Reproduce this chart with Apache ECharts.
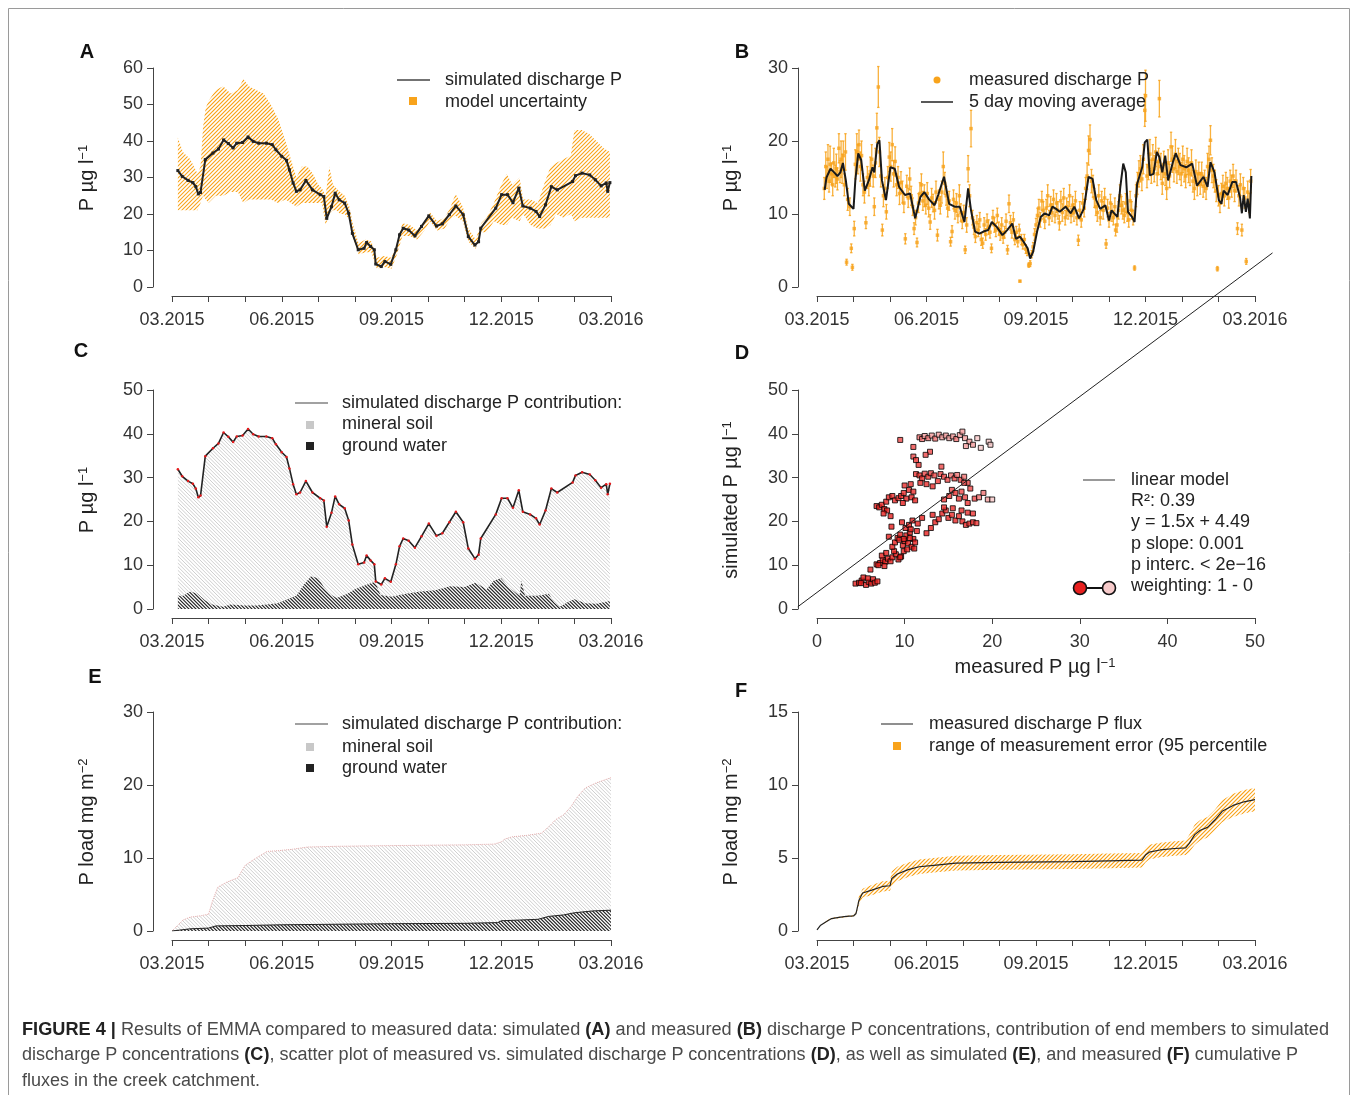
<!DOCTYPE html>
<html>
<head>
<meta charset="utf-8">
<script src="https://cdn.jsdelivr.net/npm/echarts@6/dist/echarts.min.js"></script>
<style>
html,body{margin:0;padding:0;background:#fff;}
#chart{position:absolute;left:0;top:0;width:1358px;height:1095px;}
.ln{position:absolute;left:22px;white-space:nowrap;font-family:'Liberation Sans',Arial,Helvetica,sans-serif;font-size:18px;line-height:20px;color:#4a4a4a;transform-origin:0 0;}
.ln b{color:#222;}
</style>
</head>
<body>
<div id="chart"></div>
<div class="ln" data-w="1307" style="top:1019px"><b>FIGURE 4 |</b> Results of EMMA compared to measured data: simulated <b>(A)</b> and measured <b>(B)</b> discharge P concentrations, contribution of end members to simulated</div>
<div class="ln" data-w="1276" style="top:1044px">discharge P concentrations <b>(C)</b>, scatter plot of measured vs. simulated discharge P concentrations <b>(D)</b>, as well as simulated <b>(E)</b>, and measured <b>(F)</b> cumulative P</div>
<div class="ln" data-w="238" style="top:1070px">fluxes in the creek catchment.</div>
<script>
// ---------------- DATA ----------------
const tickLabels = ['03.2015','06.2015','09.2015','12.2015','03.2016'];

// Panel A / C : simulated discharge P (months since 03.2015, µg/l)
const aM = [0.16,0.28,0.44,0.57,0.65,0.72,0.78,0.91,1.12,1.27,1.41,1.54,1.67,1.77,1.93,2.08,2.22,2.37,2.58,2.74,2.84,3.00,3.13,3.21,3.31,3.40,3.50,3.66,3.84,4.05,4.15,4.23,4.36,4.46,4.57,4.72,4.83,4.93,5.09,5.25,5.32,5.43,5.53,5.57,5.72,5.82,5.98,6.12,6.22,6.32,6.47,6.64,6.82,7.02,7.23,7.39,7.58,7.76,7.96,8.10,8.28,8.38,8.44,8.85,9.01,9.17,9.32,9.48,9.59,9.79,9.95,10.05,10.21,10.37,10.53,10.95,11.03,11.21,11.42,11.57,11.73,11.87,11.91,11.97];
const aV = [31.9,30.3,29.2,28.6,27.5,25.5,25.9,34.9,36.7,37.8,40.3,39.3,38.1,39.4,39.6,41.1,39.9,39.4,39.4,39.0,37.6,35.8,34.7,32.1,28.5,26.2,26.6,29.2,26.6,25.3,24.8,18.8,22.0,25.7,23.9,23.0,20.2,14.7,10.2,10.6,12.2,11.1,10.2,6.3,5.6,7.0,6.2,10.2,14.3,16.1,15.6,14.0,16.6,19.5,16.7,17.3,19.8,22.2,19.8,13.8,11.5,12.4,16.1,21.6,25.3,25.3,23.1,27.1,22.2,21.6,20.7,19.3,22.5,27.5,26.6,28.9,30.5,31.2,30.7,29.4,27.7,28.5,26.2,28.6];

// Panel A : model uncertainty band
const bandAM  = [0.16,0.3,0.5,0.7,0.78,0.85,0.92,1.0,1.2,1.4,1.6,1.8,1.95,2.1,2.3,2.5,2.7,2.9,3.1,3.25,3.4,3.55,3.7,3.85,4.0,4.1,4.2,4.3,4.4,4.5,4.6,4.72,4.85,4.95,5.1,5.3,5.45,5.6,5.8,6.0,6.15,6.3,6.5,6.7,6.9,7.05,7.25,7.45,7.6,7.75,7.95,8.1,8.3,8.45,8.6,8.8,9.0,9.15,9.3,9.5,9.6,9.8,10.0,10.2,10.35,10.5,10.7,10.9,11.0,11.2,11.4,11.6,11.8,11.97];
const bandAHi = [41,37,35,31,33,44,49,51,54,55,53,54,57,55,54,53,50,46,40,35,30,33,33,31,28,27,25,33,28,27,26,25,22,17,12,13,12.5,8,8.5,8,12,17.5,17,15.5,18,20.5,18,19,21.5,25.5,22,16,13,17.5,19,23,28,31,28,30,24,24,23,29,33,34,35,36,43,43,42,40,38,37];
const bandALo = [21,21,21,21,23,25,24,23,25,25,26,26,23,24,24,24,24,23,24,23,22,23,23,23,23,23,17,20,21,21,20,20,18.5,13.5,9,9.5,9.5,5,5.5,5,9,14,14,13,15.5,18,15.5,16,18.5,19.5,18,12.5,10.5,15,15,18,17,17,19,18,20,17,16,16,17,20,19,20,18,19,19,19,19,19];

// Panel B : 5 day moving average
const bMaM = [0.21,0.26,0.37,0.47,0.56,0.64,0.71,0.79,0.87,1.0,1.05,1.13,1.21,1.31,1.42,1.52,1.57,1.65,1.71,1.78,1.89,2.01,2.13,2.25,2.41,2.55,2.69,2.83,2.94,3.07,3.22,3.32,3.48,3.62,3.77,3.91,4.04,4.14,4.22,4.33,4.45,4.56,4.69,4.79,4.93,5.08,5.21,5.35,5.45,5.56,5.66,5.77,5.84,5.92,6.03,6.13,6.24,6.36,6.45,6.55,6.65,6.81,6.95,7.05,7.18,7.31,7.44,7.55,7.65,7.76,7.90,8.0,8.07,8.23,8.31,8.39,8.46,8.52,8.63,8.70,8.77,8.91,8.98,9.05,9.12,9.22,9.31,9.38,9.46,9.54,9.62,9.75,9.83,9.96,10.12,10.28,10.41,10.59,10.70,10.78,10.89,11.01,11.08,11.14,11.25,11.38,11.48,11.59,11.64,11.69,11.75,11.80,11.86,11.90];
const bMaV = [13.3,15.0,16.2,15.7,15.2,15.7,17.0,14.6,11.4,10.7,14.6,18.3,17.4,13.2,14.6,16.4,15.7,19.6,20.1,14.6,11.9,16.4,16.2,13.7,12.6,12.8,9.4,12.3,13.0,12.0,11.2,12.6,15.1,11.4,11.0,11.0,8.9,13.5,10.5,7.6,7.3,7.6,7.8,8.9,8.2,7.1,7.8,8.7,6.6,6.9,6.2,5.3,3.9,4.8,7.6,9.6,10.1,9.8,11.0,10.7,10.3,11.0,10.1,11.0,9.4,10.7,15.1,14.8,11.9,10.7,11.2,9.1,10.5,9.6,13.7,16.9,15.7,10.3,9.6,8.9,14.1,16.4,19.8,20.2,15.3,15.5,18.5,17.8,15.7,18.0,14.6,17.1,18.3,16.7,16.4,16.9,13.9,15.1,13.7,17.1,15.7,11.9,11.4,13.2,12.6,14.4,14.4,12.3,10.1,12.6,10.3,12.1,9.4,15.2];

// Panel B : measured discharge P  [month, value, error half-range]
const bMeas = [[0.20,13.5,1.5],[0.24,16.5,2],[0.27,15,1.5],[0.30,17.5,2],[0.33,14.5,1.5],[0.36,16.8,2.5],[0.40,15.5,1.5],[0.43,14,1.5],[0.46,17,2],[0.50,15.2,1.5],[0.53,16.2,2],[0.56,14.8,1.5],[0.60,19,2],[0.63,15.8,1.5],[0.66,17.5,2.5],[0.69,16.2,2],[0.72,18,2],[0.75,14,1.5],[0.78,18.5,2.5],[0.81,3.4,0.4],[0.84,12,1.5],[0.90,11,1.2],[0.94,5.3,0.6],[0.97,2.7,0.4],[1.02,8.0,1.0],[1.05,16.8,2],[1.09,18.5,2.5],[1.12,17.5,2],[1.15,19.5,2],[1.19,16.5,2],[1.22,18,2],[1.26,14,1.5],[1.30,13,1.5],[1.34,8.8,0.8],[1.38,15,1.5],[1.42,14,1.5],[1.46,15.8,2],[1.50,17.5,2],[1.54,15.2,1.5],[1.57,11,1.2],[1.60,17,2],[1.64,21.8,2],[1.68,27.4,2.8],[1.71,18.5,2],[1.75,15.2,1.5],[1.79,7.8,0.8],[1.82,12.5,1.5],[1.86,13.5,1.5],[1.90,10.3,1.0],[1.94,15,1.5],[1.98,17.8,2],[2.02,16.5,2],[2.06,19.5,2.2],[2.10,15.5,1.8],[2.14,17.2,2],[2.18,14,1.5],[2.22,15,1.5],[2.26,12.8,1.5],[2.30,14.3,1.5],[2.34,13,1.5],[2.38,11.5,1.3],[2.42,6.6,0.7],[2.46,13.8,1.5],[2.50,12.2,1.3],[2.54,14.8,1.5],[2.58,12.5,1.3],[2.62,11,1.2],[2.66,8.0,0.8],[2.70,9.5,1.0],[2.74,6.1,0.6],[2.78,11.5,1.3],[2.82,12.8,1.5],[2.86,14,1.5],[2.90,11.8,1.3],[2.94,12.5,1.5],[2.98,11.2,1.2],[3.02,12.8,1.5],[3.06,10.8,1.2],[3.10,8.9,1.0],[3.14,12.2,1.3],[3.18,11.5,1.2],[3.22,10.5,1.2],[3.26,13,1.5],[3.30,7.1,0.8],[3.34,12,1.3],[3.38,11.2,1.2],[3.42,13,1.5],[3.46,16.5,2],[3.50,14.2,1.5],[3.54,12.5,1.3],[3.58,10.8,1.2],[3.62,11.8,1.3],[3.66,6.2,0.6],[3.70,7.6,0.8],[3.74,12,1.3],[3.78,10.5,1.2],[3.82,11.5,1.3],[3.86,9.8,1.0],[3.90,12.5,1.5],[3.94,10.2,1.2],[3.98,9.0,1.0],[4.02,10.2,1.0],[4.06,5.1,0.5],[4.10,8.5,1.0],[4.14,16.2,1.8],[4.18,12.5,1.5],[4.22,21.7,2.5],[4.26,9.5,1.0],[4.30,8.2,1.0],[4.34,6.9,0.8],[4.38,8.8,1.0],[4.42,7.8,0.9],[4.46,9.2,1.0],[4.50,6.5,0.8],[4.54,6.0,0.7],[4.58,8.5,1.0],[4.62,7.2,0.8],[4.66,9.0,1.0],[4.70,8.2,1.0],[4.74,7.5,0.8],[4.78,5.3,0.6],[4.82,9.5,1.0],[4.86,8.5,1.0],[4.90,7.8,0.9],[4.94,9.8,1.0],[4.98,8.0,0.9],[5.02,7.2,0.8],[5.06,8.5,1.0],[5.10,6.8,0.8],[5.14,7.5,0.8],[5.18,9.0,1.0],[5.22,5.1,0.6],[5.26,11.4,1.2],[5.30,8.8,1.0],[5.34,7.5,0.8],[5.38,9.2,1.0],[5.42,6.5,0.7],[5.46,7.5,0.8],[5.50,6.2,0.7],[5.54,7.8,0.8],[5.56,0.8,0.1],[5.60,6.5,0.7],[5.64,5.8,0.6],[5.68,6.5,0.7],[5.72,5.2,0.6],[5.76,4.8,0.5],[5.80,3.0,0.3],[5.84,3.2,0.4],[5.88,4.5,0.5],[5.92,5.5,0.6],[5.96,7.2,0.8],[6.00,8.5,0.9],[6.04,9.8,1.0],[6.08,10.8,1.2],[6.12,9.2,1.0],[6.16,11.8,1.3],[6.20,10.5,1.2],[6.24,9.0,1.0],[6.28,10.8,1.2],[6.32,12.5,1.5],[6.36,9.5,1.0],[6.40,11.2,1.2],[6.44,10.2,1.2],[6.48,12,1.3],[6.52,9.8,1.0],[6.56,11.5,1.3],[6.60,10.5,1.2],[6.64,8.8,1.0],[6.68,11.8,1.3],[6.72,10.2,1.2],[6.76,12.2,1.3],[6.80,9.5,1.0],[6.84,11,1.2],[6.88,10.5,1.2],[6.92,12.5,1.5],[6.96,9.8,1.0],[7.00,11.2,1.2],[7.04,10.2,1.2],[7.08,11.8,1.3],[7.12,9.5,1.0],[7.16,6.4,0.7],[7.20,10.5,1.2],[7.24,9.2,1.0],[7.28,11.5,1.3],[7.32,10.8,1.2],[7.36,13.5,1.5],[7.40,15.2,1.8],[7.44,18.7,2.0],[7.48,20.2,2.0],[7.52,14.5,1.6],[7.56,13.8,1.5],[7.60,12.2,1.3],[7.64,11,1.2],[7.68,10.2,1.2],[7.72,12.5,1.5],[7.76,9.5,1.0],[7.80,11.8,1.3],[7.84,10.5,1.2],[7.88,12.2,1.3],[7.92,5.9,0.6],[7.96,10.8,1.2],[8.00,9.2,1.0],[8.04,11.5,1.2],[8.08,10.2,1.2],[8.12,9.5,1.0],[8.16,11,1.2],[8.18,7.8,0.8],[8.22,8.5,1.0],[8.26,10.5,1.2],[8.30,12.5,1.5],[8.34,11.2,1.2],[8.38,10.5,1.2],[8.42,9.8,1.0],[8.46,11.5,1.3],[8.50,10.2,1.2],[8.54,9.2,1.0],[8.58,11.8,1.3],[8.62,10.5,1.2],[8.66,9.5,1.0],[8.70,2.6,0.3],[8.74,12.5,1.5],[8.78,14.2,1.5],[8.82,15.5,1.8],[8.86,16.2,1.8],[8.90,14.8,1.6],[8.94,17.5,2.0],[8.98,24.2,2.2],[9.00,26.2,3.5],[9.04,15.2,1.6],[9.08,16.5,1.8],[9.12,18.2,2.0],[9.16,15.8,1.6],[9.20,17.5,2.0],[9.24,16.2,1.8],[9.28,18.5,2.0],[9.32,15.5,1.6],[9.36,17.2,1.8],[9.38,25.8,2.5],[9.42,16.5,1.8],[9.46,14.2,1.5],[9.50,16.8,1.8],[9.54,15.5,1.6],[9.58,13.5,1.5],[9.62,17,1.8],[9.66,15.2,1.6],[9.70,19.2,2.0],[9.74,17.5,1.8],[9.78,16.2,1.8],[9.82,18.2,2.0],[9.86,15.8,1.6],[9.90,17.2,1.8],[9.94,16.5,1.8],[9.98,15.5,1.6],[10.02,17.5,1.8],[10.06,16.2,1.8],[10.10,15.2,1.6],[10.14,17.2,1.8],[10.18,16,1.7],[10.22,15.5,1.6],[10.26,17,1.8],[10.30,14.5,1.5],[10.34,13.5,1.5],[10.38,15.8,1.6],[10.42,14,1.5],[10.46,15.5,1.6],[10.50,14.2,1.5],[10.54,15.5,1.6],[10.58,13.8,1.5],[10.62,14.5,1.5],[10.66,13.5,1.5],[10.70,16.5,1.8],[10.74,17.5,1.8],[10.78,20.1,2.0],[10.82,16,1.7],[10.86,15.2,1.6],[10.90,14.5,1.5],[10.94,13.2,1.5],[10.97,2.5,0.3],[11.00,12.5,1.4],[11.04,11.5,1.3],[11.08,12.8,1.4],[11.12,13.8,1.5],[11.16,12.5,1.4],[11.20,14.2,1.5],[11.24,13.5,1.5],[11.28,12.2,1.4],[11.32,14.5,1.5],[11.36,13.8,1.5],[11.40,15.2,1.6],[11.44,13.2,1.5],[11.48,14.5,1.5],[11.52,8.0,0.8],[11.56,12.5,1.4],[11.60,14,1.5],[11.64,7.8,0.8],[11.68,13.5,1.5],[11.72,12.2,1.4],[11.76,3.5,0.4],[11.80,13,1.5],[11.84,11.5,1.3],[11.88,14.5,1.6]];

// Panel C : ground water contribution
const cGM = [0.16,0.3,0.5,0.7,0.9,1.1,1.4,1.6,2.0,2.3,2.6,2.9,3.1,3.4,3.6,3.8,4.0,4.15,4.3,4.5,4.8,5.0,5.3,5.55,5.7,6.0,6.4,6.8,7.2,7.6,8.0,8.3,8.6,8.8,9.0,9.2,9.5,9.55,9.65,10.0,10.3,10.45,10.6,10.8,11.0,11.3,11.6,11.97];
const cGV = [3,3,4,3.5,2,1,0.5,1,0.8,0.8,1.0,1.3,2,3,5.5,7.5,7.0,5,3.5,2.5,3.5,4.5,5.5,6.2,3.2,2.8,3.5,4.0,4.3,5.2,5.0,6.0,4.5,6.5,7.0,5.0,3.0,6.5,3,3,3.5,1.5,0.5,1.5,2.2,1.3,1.2,1.8];

// Panel D : measured vs simulated [measured, simulated, weighting]
const dPts = [[4.4,5.8,1],[4.8,6.0,1],[5.1,6.5,1],[5.3,7.2,0.9],[5.6,5.5,1],[5.9,6.2,1],[6.2,5.8,1],[6.4,6.8,0.9],[6.6,6.0,1],[6.9,6.3,1],[5.8,7.0,0.8],[5.0,5.9,1],[6.1,9.0,0.6],
[6.8,10.2,1],[7.2,10.5,1],[7.5,11.2,0.9],[7.8,10.8,1],[8.1,11.5,0.9],[7.4,12.2,0.9],[7.9,12.8,0.8],[8.4,10.9,1],[8.6,11.8,0.9],[9.0,12.5,0.9],[9.3,11.3,1],[9.6,12.0,1],[9.9,13.2,0.9],[7.0,10.0,1],[7.7,9.8,1],[8.8,13.2,0.8],[9.5,11.8,1],
[8.6,14.2,0.9],[8.9,15.2,0.8],[9.2,16.2,0.9],[9.5,17.0,0.8],[9.8,14.5,1],[10.0,15.5,1],[10.2,16.8,0.9],[10.4,15.0,1],[10.6,17.5,0.8],[10.8,14.2,1],[11.0,16.0,0.9],[11.2,15.2,0.9],[11.4,17.8,0.8],[10.1,18.5,0.8],[10.5,19.2,0.7],[9.7,19.8,0.7],[10.9,20.2,0.7],[11.1,13.8,1],[9.4,15.8,1],[10.3,13.6,1],[8.2,16.5,0.8],[8.5,18.8,0.7],[10.7,18.2,0.8],[11.5,19.5,0.7],[9.9,16.0,1],[10.6,16.2,1],
[6.8,23.5,0.7],[7.1,23.2,0.7],[7.4,23.8,0.6],[7.7,22.8,0.7],[7.9,24.5,0.6],[8.2,25.5,0.6],[8.6,25.8,0.5],[8.0,22.5,0.7],[8.9,24.8,0.6],[9.3,25.3,0.5],[7.6,21.8,0.7],[8.4,21.2,0.8],
[9.6,25.8,0.6],[9.9,26.5,0.5],[10.2,25.2,0.6],[10.5,27.2,0.5],[10.8,25.5,0.6],[11.0,26.8,0.5],[10.0,28.2,0.5],[10.7,28.5,0.4],[11.2,24.8,0.7],[9.8,24.2,0.7],
[11.3,30.8,0.4],[11.7,30.5,0.4],[12.0,29.8,0.5],[12.3,30.9,0.3],[12.7,30.2,0.4],[13.0,31.0,0.3],[13.4,30.5,0.3],[13.8,29.2,0.4],[14.1,30.8,0.3],[14.5,30.2,0.3],[14.9,29.5,0.3],[15.3,30.5,0.2],[15.7,29.8,0.3],[16.0,30.6,0.2],[16.4,29.5,0.3],[16.8,30.2,0.2],[17.2,28.8,0.3],[12.5,28.5,0.5],[13.2,28.0,0.5],[11.8,28.8,0.5],
[11.7,39.2,0.2],[12.0,38.8,0.2],[12.3,39.5,0.1],[12.7,39.0,0.2],[13.1,39.6,0.1],[13.5,38.9,0.2],[13.9,39.8,0.1],[14.3,39.2,0.1],[14.7,39.6,0.1],[15.1,39.0,0.1],[15.5,39.4,0.1],[15.9,38.8,0.2],[16.3,39.7,0.1],[16.6,40.5,0.1],[16.9,39.0,0.1],[9.5,38.6,0.3],[11.0,37.0,0.3],[11.0,34.8,0.3],[11.6,32.9,0.4],[12.9,35.9,0.3],[12.4,35.2,0.3],[11.3,34.0,0.4],
[17.4,38.2,0.1],[17.8,37.5,0.1],[18.3,39.0,0],[18.7,36.8,0],[19.6,38.2,0],[19.8,37.5,0],[17.0,37.2,0.1],
[12.5,17.3,0.8],[13.0,18.5,0.7],[13.5,19.8,0.7],[13.9,20.5,0.6],[14.3,21.8,0.6],[14.7,22.5,0.5],[15.0,20.8,0.6],[15.4,21.5,0.5],[15.8,20.2,0.6],[16.2,21.2,0.5],[16.6,20.0,0.6],[17.0,19.2,0.5],[17.4,19.5,0.5],[17.8,19.8,0.4],[18.2,19.6,0.4],[16.5,22.5,0.5],[17.2,22.0,0.5],[17.8,21.8,0.4],[14.5,23.2,0.5],[15.5,23.0,0.5],[13.2,21.5,0.6],[12.0,20.8,0.7],
[14.5,25.0,0.4],[15.1,25.8,0.4],[15.4,27.2,0.3],[15.8,26.5,0.4],[16.2,25.2,0.4],[16.5,26.8,0.3],[16.9,25.5,0.3],[17.2,24.2,0.4],[17.5,27.5,0.3],[18.0,25.2,0.3],[18.5,25.5,0.2],[19.0,26.5,0.2],[19.5,25.0,0.1],[20.0,25.0,0],[14.2,32.5,0.3],[16.8,28.8,0.3]];
// Panel D : linear model line end points
const dLine = [[-2.2,0.5],[52,81.3]];
const dLegendText = ['linear model','R²: 0.39','y = 1.5x + 4.49','p slope: 0.001','p interc. < 2e\u221216','weighting: 1 - 0'];

// Panel E : cumulative simulated load
const eM  = [0,0.1,0.3,0.5,0.8,1.0,1.1,1.25,1.5,1.8,2.0,2.3,2.6,2.9,3.3,3.7,4.5,6.0,8.0,8.8,9.0,9.1,9.3,9.7,10.1,10.3,10.5,10.7,10.9,11.1,11.3,11.6,12.0];
const eTotal = [0,0.5,1.5,1.9,2.1,2.3,4.0,6.0,6.7,7.3,9.0,10.0,10.9,11.0,11.2,11.5,11.6,11.7,11.8,11.9,12.2,12.6,12.9,13.1,13.4,14.3,15.3,15.9,17.0,18.5,19.6,20.3,21.0];
const eGM = [0,0.5,1.0,1.2,2.0,3.0,4.0,6.0,8.0,8.9,9.0,9.5,10.0,10.3,10.7,11.0,11.5,12.0];
const eGround = [0,0.3,0.4,0.7,0.75,0.85,0.9,1.0,1.05,1.15,1.4,1.5,1.6,2.0,2.2,2.5,2.75,2.85];

// Panel F : measured cumulative flux and error range
const fM  = [0,0.1,0.25,0.4,0.6,0.8,1.0,1.07,1.15,1.25,1.5,1.8,2.0,2.05,2.2,2.5,2.8,3.2,3.8,5.0,7.0,8.0,8.9,9.0,9.1,9.4,9.8,10.1,10.2,10.35,10.5,10.7,10.9,11.1,11.4,11.7,12.0];
const fV  = [0.07,0.4,0.64,0.85,0.93,1.0,1.03,1.2,2.1,2.6,2.8,3.05,3.1,3.6,3.9,4.2,4.4,4.5,4.65,4.7,4.75,4.8,4.85,5.2,5.4,5.55,5.65,5.7,6.0,6.6,6.9,7.1,7.6,8.2,8.6,8.85,9.0];
const fLo = [0.07,0.38,0.6,0.8,0.88,0.95,0.98,1.1,1.8,2.3,2.45,2.7,2.75,3.1,3.4,3.7,3.9,4.0,4.15,4.2,4.25,4.3,4.35,4.7,4.9,5.05,5.15,5.2,5.4,5.9,6.2,6.4,6.9,7.45,7.8,8.05,8.2];
const fHi = [0.07,0.42,0.68,0.9,0.98,1.05,1.08,1.3,2.4,2.9,3.15,3.4,3.45,4.1,4.4,4.7,4.9,5.0,5.15,5.2,5.25,5.3,5.35,5.7,5.9,6.05,6.15,6.2,6.6,7.3,7.6,7.8,8.3,8.95,9.4,9.65,9.8];

// ---------------- HELPERS ----------------
const FONT = "'Liberation Sans', Arial, Helvetica, sans-serif";
const ORANGE = '#f8a31b';
const zip = (xs, ys) => xs.map((x, i) => [x, ys[i]]);

const grids = [
  { left: 172, top: 68, width: 439, height: 219 },
  { left: 817, top: 68, width: 438, height: 219 },
  { left: 172, top: 390, width: 439, height: 219 },
  { left: 817, top: 390, width: 438, height: 219 },
  { left: 172, top: 712, width: 439, height: 219 },
  { left: 817, top: 712, width: 438, height: 219 }
];

function mkX(gi, isTime) {
  return {
    type: 'value', gridIndex: gi, min: 0, max: isTime ? 12 : 50, interval: isTime ? 1 : 10, offset: 9,
    axisLine: { show: true, onZero: false, lineStyle: { color: '#444', width: 1 } },
    axisTick: { show: true, inside: false, length: 6, lineStyle: { color: '#444', width: 1 } },
    axisLabel: {
      show: true, fontSize: 18, color: '#333', fontFamily: FONT, margin: 15,
      showMinLabel: true, showMaxLabel: true,
      formatter: isTime ? (v => (v % 3 === 0 ? tickLabels[v / 3] : '')) : (v => String(v))
    },
    splitLine: { show: false }
  };
}
function mkY(gi, max, interval) {
  return {
    type: 'value', gridIndex: gi, min: 0, max: max, interval: interval, offset: 19,
    axisLine: { show: true, onZero: false, lineStyle: { color: '#444', width: 1 } },
    axisTick: { show: true, inside: false, length: 6, lineStyle: { color: '#444', width: 1 } },
    axisLabel: { show: true, fontSize: 18, color: '#333', fontFamily: FONT, margin: 10, showMinLabel: true, showMaxLabel: true },
    splitLine: { show: false }
  };
}

// hatched region between lo (or 0) and hi, drawn as vector hatch lines clipped to the region
function hatchSeries(ai, ms, lo, hi, color, dir, step, lw, whiteUnder) {
  return {
    type: 'custom', xAxisIndex: ai, yAxisIndex: ai, silent: true, z: 1,
    data: ms.map((m, i) => [m, lo ? lo[i] : 0, hi[i]]), encode: { x: 0, y: [1, 2] },
    renderItem: function (params, api) {
      if (params.dataIndex !== 0) return null;
      const pts = [];
      for (let i = 0; i < ms.length; i++) pts.push(api.coord([ms[i], hi[i]]));
      for (let i = ms.length - 1; i >= 0; i--) pts.push(api.coord([ms[i], lo ? lo[i] : 0]));
      let x0 = Infinity, x1 = -Infinity, y0 = Infinity, y1 = -Infinity;
      pts.forEach(p => { x0 = Math.min(x0, p[0]); x1 = Math.max(x1, p[0]); y0 = Math.min(y0, p[1]); y1 = Math.max(y1, p[1]); });
      let d = '';
      if (dir === '/') {
        for (let c = Math.floor((x0 + y0) / step) * step; c <= x1 + y1 + step; c += step)
          d += 'M' + (c - y1 - 1) + ' ' + (y1 + 1) + 'L' + (c - y0 + 1) + ' ' + (y0 - 1);
      } else {
        for (let c = Math.floor((x0 - y1) / step) * step; c <= x1 - y0 + step; c += step)
          d += 'M' + (c + y0 - 1) + ' ' + (y0 - 1) + 'L' + (c + y1 + 1) + ' ' + (y1 + 1);
      }
      const children = [];
      if (whiteUnder) children.push({ type: 'polygon', shape: { points: pts }, style: { fill: '#ffffff', stroke: null } });
      children.push({ type: 'path', shape: { pathData: d }, style: { stroke: color, lineWidth: lw, fill: null } });
      return { type: 'group', clipPath: { type: 'polygon', shape: { points: pts } }, children: children };
    }
  };
}

// ---------------- GRAPHICS (labels / legends) ----------------
const G = [];
function txt(x, y, text, size, opt) {
  opt = opt || {};
  G.push({
    type: 'text', x: x, y: y, rotation: opt.rot || 0, z: 100, silent: true,
    style: {
      text: text, fill: opt.color || '#222', fontSize: size, fontFamily: FONT,
      fontWeight: opt.bold ? 'bold' : 'normal',
      align: opt.align || 'left', verticalAlign: 'middle',
      textAlign: opt.align || 'left', textVerticalAlign: 'middle',
      rich: { s: { fontSize: 13, fontFamily: FONT, fill: opt.color || '#222', verticalAlign: 'top', lineHeight: 13 } }
    }
  });
}
function seg(x1, y1, x2, y2, color, w) {
  G.push({ type: 'line', z: 100, silent: true, shape: { x1, y1, x2, y2 }, style: { stroke: color, lineWidth: w } });
}
function sq(cx, cy, s, color) {
  G.push({ type: 'rect', z: 100, silent: true, shape: { x: cx - s / 2, y: cy - s / 2, width: s, height: s }, style: { fill: color } });
}
function circ(cx, cy, r, fill, stroke) {
  G.push({ type: 'circle', z: 100, silent: true, shape: { cx, cy, r }, style: { fill: fill, stroke: stroke || null, lineWidth: 1.6 } });
}

// frame
G.push({ type: 'rect', z: 0, silent: true, shape: { x: 8.5, y: 8.5, width: 1341, height: 1100 }, style: { fill: null, stroke: '#9a9a9a', lineWidth: 1 } });

// panel letters
[['A', 87, 52], ['B', 742, 52], ['C', 81, 351], ['D', 742, 353], ['E', 95, 677], ['F', 741, 691]].forEach(p => txt(p[1], p[2], p[0], 20, { bold: true, align: 'center', color: '#111' }));

// axis titles
const R = Math.PI / 2;
txt(87, 178, 'P µg l{s|\u22121}', 20, { rot: R, align: 'center' });
txt(731, 178, 'P µg l{s|\u22121}', 20, { rot: R, align: 'center' });
txt(87, 500, 'P µg l{s|\u22121}', 20, { rot: R, align: 'center' });
txt(731, 500, 'simulated P µg l{s|\u22121}', 20, { rot: R, align: 'center' });
txt(1035, 667, 'measured P µg l{s|\u22121}', 20, { align: 'center' });
txt(87, 822, 'P load mg m{s|\u22122}', 20, { rot: R, align: 'center' });
txt(731, 822, 'P load mg m{s|\u22122}', 20, { rot: R, align: 'center' });

// legend A
seg(397, 80, 430, 80, '#444', 1.5); txt(445, 80, 'simulated discharge P', 18);
sq(413, 101, 8, ORANGE); txt(445, 102, 'model uncertainty', 18);
// legend B
circ(937, 80, 3.5, ORANGE); txt(969, 80, 'measured discharge P', 18);
seg(921, 102, 953, 102, '#222', 1.5); txt(969, 102, '5 day moving average', 18);
// legend C
seg(295, 403, 328, 403, '#444', 1.2); txt(342, 403, 'simulated discharge P contribution:', 18);
sq(310, 425, 8, '#c8c8c8'); txt(342, 424, 'mineral soil', 18);
sq(310, 446, 8, '#222'); txt(342, 446, 'ground water', 18);
// legend D
seg(1083, 480, 1115, 480, '#555', 1.2);
dLegendText.forEach((t, i) => txt(1131, [480, 501, 522, 544, 565, 586][i], t, 18));
seg(1086, 588, 1102, 588, '#111', 2);
circ(1080, 588, 6.5, '#e8201f', '#111');
circ(1109, 588, 6.5, '#f7caca', '#111');
// legend E
seg(295, 724, 328, 724, '#444', 1.2); txt(342, 724, 'simulated discharge P contribution:', 18);
sq(310, 747, 8, '#c8c8c8'); txt(342, 747, 'mineral soil', 18);
sq(310, 768, 8, '#222'); txt(342, 768, 'ground water', 18);
// legend F
seg(881, 724, 913, 724, '#444', 1.2); txt(929, 724, 'measured discharge P flux', 18);
sq(897, 746, 8, ORANGE); txt(929, 746, 'range of measurement error (95 percentile', 18);

// ---------------- SERIES ----------------
const series = [
  // A (0-1)
  hatchSeries(0, bandAM, bandALo, bandAHi, '#f9a41c', '/', 4, 1.2, false),
  { type: 'line', xAxisIndex: 0, yAxisIndex: 0, data: zip(aM, aV), symbol: 'rect', symbolSize: 3, showSymbol: true, itemStyle: { color: '#222' }, lineStyle: { color: '#222', width: 2 }, z: 5 },
  // B (2-4)
  {
    type: 'custom', xAxisIndex: 1, yAxisIndex: 1, data: bMeas, encode: { x: 0, y: 1 }, silent: true,
    renderItem: function (params, api) {
      const x = api.value(0), y = api.value(1), e = api.value(2);
      const t = api.coord([x, y + e]), b = api.coord([x, y - e]);
      const st = { stroke: ORANGE, lineWidth: 1.3, opacity: 0.85 };
      return { type: 'group', children: [
        { type: 'line', shape: { x1: t[0], y1: t[1], x2: b[0], y2: b[1] }, style: st },
        { type: 'line', shape: { x1: t[0] - 1.2, y1: t[1], x2: t[0] + 1.2, y2: t[1] }, style: st },
        { type: 'line', shape: { x1: b[0] - 1.2, y1: b[1], x2: b[0] + 1.2, y2: b[1] }, style: st }
      ] };
    }
  },
  { type: 'scatter', xAxisIndex: 1, yAxisIndex: 1, data: bMeas.map(p => [p[0], p[1]]), symbol: 'rect', symbolSize: 3.5, itemStyle: { color: ORANGE }, silent: true },
  { type: 'line', xAxisIndex: 1, yAxisIndex: 1, data: zip(bMaM, bMaV), showSymbol: false, lineStyle: { color: '#1a1a1a', width: 2 }, z: 5 },
  // C (5-7)
  hatchSeries(2, aM, null, aV, '#cacaca', '\\', 3.6, 0.9, false),
  hatchSeries(2, cGM, null, cGV, '#262626', '\\', 3.5, 1.2, true),
  { type: 'line', xAxisIndex: 2, yAxisIndex: 2, data: zip(aM, aV), symbol: 'circle', symbolSize: 2.5, showSymbol: true, itemStyle: { color: '#e41a1c', borderWidth: 0 }, lineStyle: { color: '#222', width: 1.6 }, z: 5 },
  // D (8-9)
  { type: 'scatter', xAxisIndex: 3, yAxisIndex: 3, data: dPts, symbol: 'rect', symbolSize: 5, itemStyle: { borderColor: '#000', borderWidth: 1 }, silent: true },
  {
    type: 'custom', xAxisIndex: 3, yAxisIndex: 3, data: dLine, encode: { x: 0, y: 1 }, silent: true, z: 20,
    renderItem: function (params, api) {
      if (params.dataIndex !== 0) return null;
      const p0 = api.coord(dLine[0]), p1 = api.coord(dLine[1]);
      return { type: 'line', shape: { x1: p0[0], y1: p0[1], x2: p1[0], y2: p1[1] }, style: { stroke: '#222', lineWidth: 1 } };
    }
  },
  // E (10-13)
  hatchSeries(4, eM, null, eTotal, '#cacaca', '\\', 3.6, 0.9, false),
  hatchSeries(4, eGM, null, eGround, '#262626', '\\', 3.5, 1.2, true),
  { type: 'line', xAxisIndex: 4, yAxisIndex: 4, data: zip(eM, eTotal), showSymbol: false, lineStyle: { color: '#e3a9a9', width: 1, type: 'dotted' }, z: 4, silent: true },
  { type: 'line', xAxisIndex: 4, yAxisIndex: 4, data: zip(eGM, eGround), showSymbol: false, lineStyle: { color: '#222', width: 1 }, z: 4, silent: true },
  // F (14-15)
  hatchSeries(5, fM, fLo, fHi, '#f9a41c', '/', 4, 1.2, false),
  { type: 'line', xAxisIndex: 5, yAxisIndex: 5, data: zip(fM, fV), showSymbol: false, lineStyle: { color: '#222', width: 1.2 }, z: 5 }
];

const chart = echarts.init(document.getElementById('chart'), null, { renderer: 'canvas', width: 1358, height: 1095 });
chart.setOption({
  animation: false,
  backgroundColor: '#fff',
  textStyle: { fontFamily: FONT },
  grid: grids,
  xAxis: [mkX(0, true), mkX(1, true), mkX(2, true), mkX(3, false), mkX(4, true), mkX(5, true)],
  yAxis: [mkY(0, 60, 10), mkY(1, 30, 10), mkY(2, 50, 10), mkY(3, 50, 10), mkY(4, 30, 10), mkY(5, 15, 5)],
  visualMap: [{ show: false, type: 'continuous', seriesIndex: 8, dimension: 2, min: 0, max: 1, inRange: { color: ['#f8c8c8', '#ee3b3b', '#e8201f', '#e8201f'] } }],
  series: series,
  graphic: G
});

// fit caption lines to reference widths
document.querySelectorAll('.ln').forEach(el => {
  const w = el.getBoundingClientRect().width;
  const target = +el.dataset.w;
  el.style.transform = 'scaleX(' + (target / w).toFixed(4) + ')';
});
</script>
</body>
</html>
